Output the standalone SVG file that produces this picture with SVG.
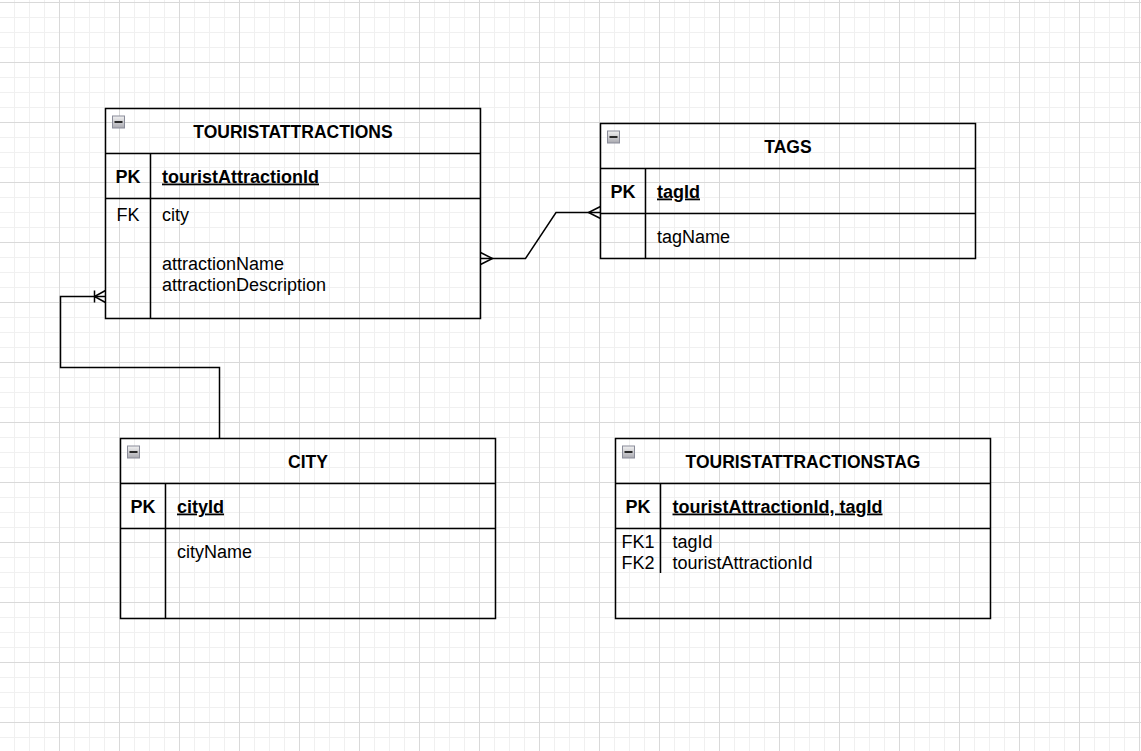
<svg xmlns="http://www.w3.org/2000/svg" width="1141" height="751" viewBox="0 0 1141 751">
<style>
.box{fill:none;stroke:#000;stroke-width:1.5}
.ln{fill:none;stroke:#000;stroke-width:1.5}
.t{font-family:"Liberation Sans",Arial,sans-serif;font-size:18px;fill:#000}
.b{font-weight:bold}
.title{font-family:"Liberation Sans",Arial,sans-serif;font-size:17.5px;font-weight:bold;text-anchor:middle;fill:#000}
.m{text-anchor:middle}
.u{text-decoration:underline}
.conn{fill:none;stroke:#000;stroke-width:1.5}
</style>
<defs>
<pattern id="minor" x="-1" y="2" width="15" height="15" patternUnits="userSpaceOnUse">
<path d="M0.5,0 V15 M0,0.5 H15" stroke="#f0f0f0" stroke-width="1" fill="none"/>
</pattern>
<pattern id="major" x="-1" y="2" width="60" height="60" patternUnits="userSpaceOnUse">
<path d="M0.5,0 V60 M0,0.5 H60" stroke="#d9d9d9" stroke-width="1" fill="none"/>
</pattern>
<linearGradient id="ig" x1="0" y1="0" x2="0" y2="1">
<stop offset="0" stop-color="#f2f2f2"/>
<stop offset="1" stop-color="#a9a9b0"/>
</linearGradient>
<g id="icon">
<rect x="0.5" y="0.5" width="12" height="12" fill="url(#ig)" stroke="#8a8c99" stroke-width="1"/>
<path d="M2.5,6.5 H10.5" stroke="#000" stroke-width="1.6"/>
</g>
</defs>
<rect width="1141" height="751" fill="#fff"/>
<rect width="1141" height="751" fill="url(#minor)"/>
<rect width="1141" height="751" fill="url(#major)"/>

<g id="connectors">
<path class="conn" d="M480.5,258.5 H525.5 L556,212.5 H600.5"/>
<path class="conn" d="M480.5,252.5 L492.5,258.5 L480.5,264.5"/>
<path class="conn" d="M600.5,206.5 L588.5,212.5 L600.5,218.5"/>
<path class="conn" d="M219.5,438.5 V367.5 H60.5 V296.5 H105.5"/>
<path class="conn" d="M94.5,290.5 V302.5 M105.5,290.5 L94.5,296.5 L105.5,302.5"/>
</g>

<g id="touristattractions">
<rect x="105.5" y="108.5" width="375" height="210" fill="#fff" class="box"/>
<path class="ln" d="M105.5,153.5 H480.5 M105.5,198.5 H480.5 M150.5,153.5 V318.5"/>
<use href="#icon" x="112" y="115.5"/>
<text class="title" x="293" y="137.5">TOURISTATTRACTIONS</text>
<text class="t b m" x="128" y="182.5">PK</text>
<text class="t b u" x="162" y="182.5">touristAttractionId</text>
<text class="t m" x="128" y="221">FK</text>
<text class="t" x="162" y="221">city</text>
<text class="t" x="162" y="270">attractionName</text>
<text class="t" x="162" y="291">attractionDescription</text>
</g>

<g id="tags">
<rect x="600.5" y="123.5" width="375" height="135" fill="#fff" class="box"/>
<path class="ln" d="M600.5,168.5 H975.5 M600.5,213.5 H975.5 M645.5,168.5 V258.5"/>
<use href="#icon" x="607" y="130.5"/>
<text class="title" x="788" y="152.5">TAGS</text>
<text class="t b m" x="623" y="197.5">PK</text>
<text class="t b u" x="657" y="197.5">tagId</text>
<text class="t" x="657" y="243">tagName</text>
</g>

<g id="city">
<rect x="120.5" y="438.5" width="375" height="180" fill="#fff" class="box"/>
<path class="ln" d="M120.5,483.5 H495.5 M120.5,528.5 H495.5 M165.5,483.5 V618.5"/>
<use href="#icon" x="127" y="445.5"/>
<text class="title" x="308" y="467.5">CITY</text>
<text class="t b m" x="143" y="512.5">PK</text>
<text class="t b u" x="177" y="512.5">cityId</text>
<text class="t" x="177" y="557.5">cityName</text>
</g>

<g id="touristattractionstag">
<rect x="615.5" y="438.5" width="375" height="180" fill="#fff" class="box"/>
<path class="ln" d="M615.5,483.5 H990.5 M615.5,528.5 H990.5 M660.5,483.5 V573"/>
<use href="#icon" x="622" y="445.5"/>
<text class="title" x="803" y="467.5">TOURISTATTRACTIONSTAG</text>
<text class="t b m" x="638" y="512.5">PK</text>
<text class="t b u" x="672.5" y="512.5">touristAttractionId, tagId</text>
<text class="t m" x="638" y="547.5">FK1</text>
<text class="t m" x="638" y="568.5">FK2</text>
<text class="t" x="672.5" y="547.5">tagId</text>
<text class="t" x="672.5" y="568.5">touristAttractionId</text>
</g>
</svg>
